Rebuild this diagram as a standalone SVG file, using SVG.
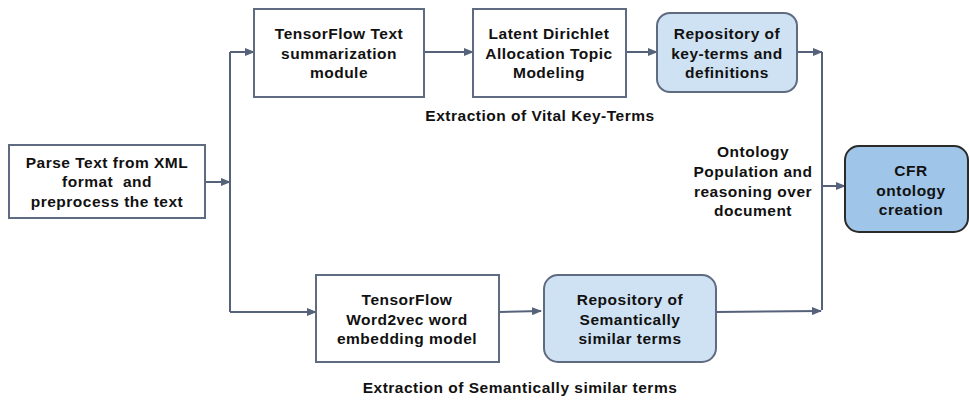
<svg xmlns="http://www.w3.org/2000/svg" width="969" height="400" viewBox="0 0 969 400">
<defs>
<marker id="ah" markerWidth="10" markerHeight="8" refX="9" refY="4" orient="auto" markerUnits="userSpaceOnUse">
<path d="M0,0 L10,4 L0,8 Z" fill="#56627a"/>
</marker>
</defs>
<style>
text{font-family:"Liberation Sans",Arial,sans-serif;font-weight:bold;font-size:15.5px;letter-spacing:0.5px;fill:#111;text-anchor:middle}
.box{fill:#fff;stroke:#5f6b80;stroke-width:2}
.repo{fill:#cfe2f3;stroke:#5f6b80;stroke-width:2}
.cfr{fill:#9fc5e8;stroke:#2a2a2a;stroke-width:2}
.c{fill:none;stroke:#56627a;stroke-width:2}
.ca{fill:none;stroke:#56627a;stroke-width:2;marker-end:url(#ah)}
</style>
<rect width="969" height="400" fill="#fff"/>
<g id="connectors">
<path class="ca" d="M205,182 L230,182"/>
<path class="c" d="M230,52 L230,312"/>
<path class="ca" d="M230,52 L254,52"/>
<path class="ca" d="M424,52 L473,52"/>
<path class="ca" d="M626,52 L657,52"/>
<path class="ca" d="M797,52 L822,52"/>
<path class="c" d="M822,52 L822,310"/>
<path class="ca" d="M230,312 L316,312"/>
<path class="ca" d="M499,312 L541,311"/>
<path class="ca" d="M716,312 L821,311"/>
<path class="ca" d="M822,186 L845,186"/>
</g>
<g id="parse">
<rect class="box" x="9" y="145" width="196" height="73"/>
<text x="107" y="168">Parse Text from XML</text>
<text x="107" y="187" xml:space="preserve">format  and</text>
<text x="107" y="207">preprocess the text</text>
</g>
<g id="tf-text">
<rect class="box" x="254" y="9" width="170" height="88"/>
<text x="339" y="39">TensorFlow Text</text>
<text x="339" y="59">summarization</text>
<text x="339" y="78">module</text>
</g>
<g id="lda">
<rect class="box" x="473" y="9" width="153" height="88"/>
<text x="549" y="39">Latent Dirichlet</text>
<text x="549" y="59">Allocation Topic</text>
<text x="549" y="78">Modeling</text>
</g>
<g id="repo-key">
<rect class="repo" x="657" y="13" width="140" height="79" rx="13"/>
<text x="727" y="39">Repository of</text>
<text x="727" y="59">key-terms and</text>
<text x="727" y="78">definitions</text>
</g>
<g id="label-vital">
<text x="540" y="121">Extraction of Vital Key-Terms</text>
</g>
<g id="label-ontology">
<text x="753" y="157">Ontology</text>
<text x="753" y="177">Population and</text>
<text x="753" y="197">reasoning over</text>
<text x="753" y="216">document</text>
</g>
<g id="cfr">
<rect class="cfr" x="845" y="146" width="123" height="86" rx="14"/>
<text x="911" y="176">CFR</text>
<text x="911" y="196">ontology</text>
<text x="911" y="215">creation</text>
</g>
<g id="w2v">
<rect class="box" x="316" y="275" width="183" height="87"/>
<text x="407" y="305">TensorFlow</text>
<text x="407" y="325">Word2vec word</text>
<text x="407" y="344">embedding model</text>
</g>
<g id="repo-sem">
<rect class="repo" x="544" y="275" width="172" height="87" rx="14"/>
<text x="630" y="305">Repository of</text>
<text x="630" y="325">Semantically</text>
<text x="630" y="344">similar terms</text>
</g>
<g id="label-sem">
<text x="520" y="393">Extraction of Semantically similar terms</text>
</g>
</svg>
